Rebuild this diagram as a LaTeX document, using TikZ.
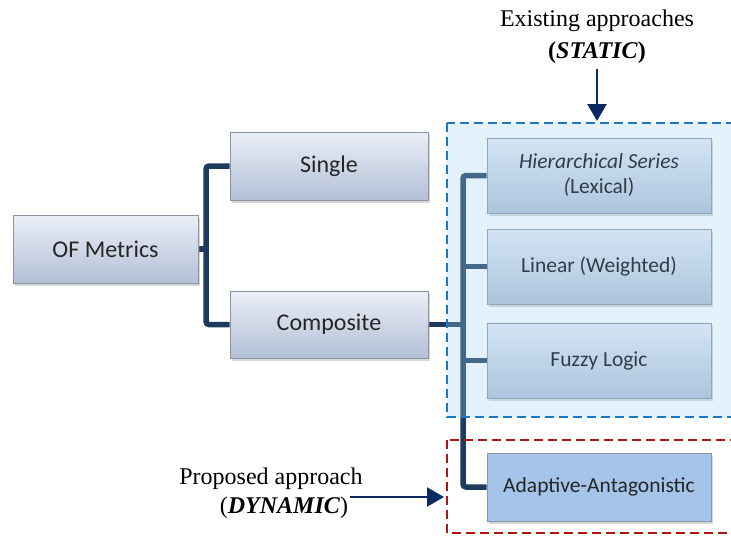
\documentclass[tikz,border=0pt]{standalone}
\usepackage{fontspec}
\setmainfont{Liberation Serif}
\newfontfamily\boxfont{Carlito}
\usetikzlibrary{shadows,arrows.meta,backgrounds}
\definecolor{treenavy}{HTML}{1F3A5F}
\definecolor{boxborder}{HTML}{8A94A2}
\definecolor{boxtop}{HTML}{EAEEF6}
\definecolor{boxbot}{HTML}{B4C0D7}
\definecolor{adaptfill}{HTML}{A4C4E9}
\definecolor{tintblue}{HTML}{9FD0F0}
\definecolor{dashblue}{HTML}{1A7AC8}
\definecolor{dashred}{HTML}{B01515}
\definecolor{arrownavy}{HTML}{0B2A63}
\begin{document}
\begin{tikzpicture}[x=1pt,y=-1pt,
  mbox/.style={draw=boxborder, line width=1pt, top color=boxtop, bottom color=boxbot,
    inner sep=0pt, text=black!85, align=center,
    drop shadow={shadow xshift=2pt, shadow yshift=-3pt, opacity=0.35, fill=black!45}},
  bigtext/.style={font=\boxfont\fontsize{24}{28}\selectfont},
  smalltext/.style={font=\boxfont\fontsize{21.5}{25}\selectfont},
  leftbox/.style={mbox, bigtext, minimum width=198pt, minimum height=68pt},
  rightbox/.style={mbox, smalltext, text=black, minimum width=224pt, minimum height=75pt},
  tree/.style={draw=treenavy, line width=5.5pt, rounded corners=3pt},
  arr/.style={draw=arrownavy, line width=2.5pt, -{Triangle[length=17pt,width=19pt]}},
  caption/.style={font=\fontsize{24}{32}\selectfont, align=center, inner sep=0pt}]
\useasboundingbox (0,0) rectangle (731,536);
\clip (0,0) rectangle (731,536);

% nodes
\node[leftbox, minimum width=185pt] (of) at (105.5,249) {OF Metrics};
\node[leftbox] (single) at (329,166) {Single};
\node[leftbox, minimum height=67pt] (comp) at (329,324.5) {Composite};
\node[rightbox] (hier) at (599,175.5) {\textit{Hierarchical Series}\\\textit{(}Lexical)};
\node[rightbox] (lin) at (599,266.5) {Linear (Weighted)};
\node[rightbox] (fuzzy) at (599,360.5) {Fuzzy Logic};
\node[mbox, smalltext, minimum width=224pt, minimum height=68pt, top color=adaptfill, bottom color=adaptfill] (adapt) at (599,487) {Adaptive-Antagonistic};

\begin{scope}[on background layer]
% left tree
\coordinate (ltop) at (206,166);
\draw[tree] (single.west) -- (ltop) |- (comp.west);
\draw[tree, rounded corners=0pt] (of.east) -- (of.east -| ltop);
% right tree
\coordinate (rtop) at (463,175.5);
\draw[tree] (hier.west) -- (rtop) |- (adapt.west);
\draw[tree, rounded corners=0pt] (comp.east) -- (comp.east -| rtop);
\draw[tree, rounded corners=0pt] (lin.west) -- (lin.west -| rtop);
\draw[tree, rounded corners=0pt] (fuzzy.west) -- (fuzzy.west -| rtop);
\end{scope}

% groups
\fill[tintblue, opacity=0.3] (447,123) rectangle (745,417);
\draw[dashblue, line width=2.5pt, dash pattern=on 9pt off 5pt] (447,123) rectangle (745,417);
\draw[dashred, line width=2.5pt, dash pattern=on 9pt off 5pt] (447,440) rectangle (745,533);

% captions
\node[caption] (static) at (597,37) {Existing approaches\\\textbf{(\textit{STATIC})}};
\coordinate (sa) at (597,121);
\draw[arr, shorten <=5pt] (static.south) -- (static.south |- sa);

\node[caption] (prop) at (271,479) {Proposed approach};
\node[caption] (dyn) at (284,508) {(\textbf{\textit{DYNAMIC}})};
\coordinate (pa0) at (350,497);
\coordinate (pa) at (444,497);
\draw[arr] (pa0) -- (pa);
\end{tikzpicture}
\end{document}
